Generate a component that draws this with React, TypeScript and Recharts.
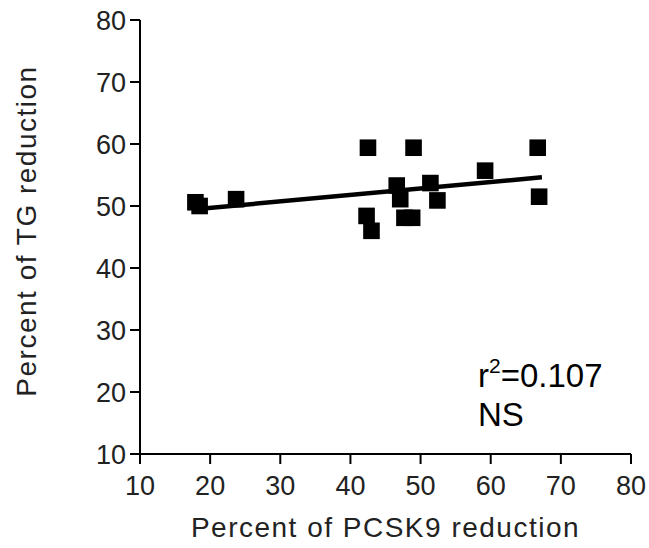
import { ScatterChart, Scatter, XAxis, YAxis, ReferenceLine } from 'recharts';

const pcsk9Reduction = [17.9, 18.5, 23.7, 42.5, 49.0, 66.7, 59.2, 46.6, 47.1, 51.4, 52.4, 66.9, 42.3, 43.0, 47.7, 48.8];
const tgReduction = [50.6, 50.0, 51.1, 59.4, 59.4, 59.4, 55.7, 53.3, 51.1, 53.7, 50.9, 51.5, 48.4, 46.0, 48.1, 48.1];
const fitX = [17.85, 67.3];
const fitY = [49.47, 54.63];
const ticks = [10, 20, 30, 40, 50, 60, 70, 80];

const points = pcsk9Reduction.map((x, i) => ({ x, y: tgReduction[i] }));
const fitSegment = fitX.map((x, i) => ({ x, y: fitY[i] }));

const font = '"Liberation Sans", Arial, sans-serif';

const SquareMark = (props: any) => {
  const { cx, cy } = props;
  return <rect x={cx - 8.3} y={cy - 8.3} width={16.6} height={16.6} fill="#000" />;
};

const YLabel = (props: any) => {
  const vb = props.viewBox;
  const x = vb.x + 36;
  const y = vb.y + vb.height / 2 - 6;
  return (
    <text
      x={x}
      y={y}
      transform={`rotate(-90, ${x}, ${y})`}
      textAnchor="middle"
      fontSize={28}
      letterSpacing={1.5}
      fontFamily={font}
      fill="#222"
    >
      Percent of TG reduction
    </text>
  );
};

const XLabel = (props: any) => {
  const vb = props.viewBox;
  return (
    <text
      x={vb.x + vb.width / 2}
      y={vb.y + 83}
      textAnchor="middle"
      fontSize={28}
      letterSpacing={1.5}
      fontFamily={font}
      fill="#222"
    >
      Percent of PCSK9 reduction
    </text>
  );
};

export default function App() {
  return (
    <div style={{ position: 'absolute', left: 0, top: 0, width: 649, height: 548, background: '#fff' }}>
      <ScatterChart width={649} height={548} margin={{ top: 20, right: 18, bottom: 0, left: 0 }}>
        <XAxis
          type="number"
          dataKey="x"
          domain={[10, 80]}
          ticks={ticks}
          height={94}
          tickSize={10}
          tickMargin={12}
          axisLine={{ stroke: '#000', strokeWidth: 2 }}
          tickLine={{ stroke: '#000', strokeWidth: 2 }}
          tick={{ fontSize: 27, fill: '#222', fontFamily: font }}
          label={<XLabel />}
        />
        <YAxis
          type="number"
          dataKey="y"
          domain={[10, 80]}
          ticks={ticks}
          width={140}
          tickSize={10}
          tickMargin={4}
          axisLine={{ stroke: '#000', strokeWidth: 2 }}
          tickLine={{ stroke: '#000', strokeWidth: 2 }}
          tick={{ fontSize: 27, fill: '#222', fontFamily: font }}
          label={<YLabel />}
        />
        <Scatter data={points} shape={SquareMark} isAnimationActive={false} />
        <ReferenceLine segment={fitSegment} stroke="#000" strokeWidth={4.5} />
      </ScatterChart>
      <svg width={649} height={548} style={{ position: 'absolute', left: 0, top: 0, pointerEvents: 'none' }}>
        <text x={478} y={387} fontSize={33} fontFamily={font} fill="#000">
          r<tspan fontSize={21} dy={-14}>2</tspan>
          <tspan dy={14}>=0.107</tspan>
        </text>
        <text x={478} y={426} fontSize={33} fontFamily={font} fill="#000">
          NS
        </text>
      </svg>
    </div>
  );
}
